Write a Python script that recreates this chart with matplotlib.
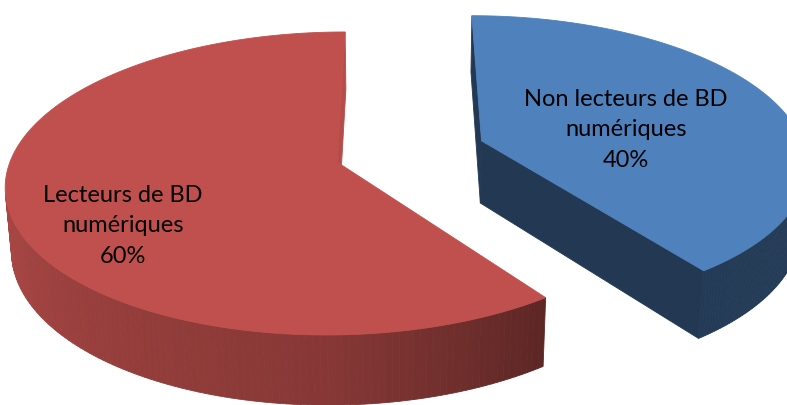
import numpy as np
import matplotlib
matplotlib.use("Agg")
import matplotlib.pyplot as plt
from matplotlib.patches import Polygon

# chart data
labels = ["Non lecteurs de BD\nnumériques", "Lecteurs de BD\nnumériques"]
values = [40, 60]
explode = [0.47, 0.0]
top_colors = ["#4F81BD", "#C0504D"]

# camera / perspective settings (tuned by eye)
elev = np.radians(27)
dist = 6.29
scale = 2057
cam_x = 0.2
thick = 0.22
ce, se = np.cos(elev), np.sin(elev)
X0 = 337 + scale * cam_x / dist
Y0 = 162
cam = np.array([cam_x, -dist * ce, dist * se])


def proj(x, y, z):
    rx, ry, rz = x - cam[0], y - cam[1], z - cam[2]
    depth = ry * ce - rz * se
    up = ry * se + rz * ce
    return X0 + scale * rx / depth, Y0 - scale * up / depth


def depth_of(x, y, z):
    return np.sqrt((x - cam[0]) ** 2 + (y - cam[1]) ** 2 + (z - cam[2]) ** 2)


def wall_color(base, ang, kind):
    # darker on the right, lighter to the left
    base = np.array(matplotlib.colors.to_rgb(base))
    if kind == "red":
        a_pts = [144, 180, 225, 270, 320, 360]
        f_pts = [0.48, 0.70, 0.80, 0.92, 0.95, 0.95]
    else:
        a_pts = [0, 60, 100, 144]
        f_pts = [0.42, 0.45, 0.47, 0.46]
    f = np.interp(ang, a_pts, f_pts)
    return tuple(np.clip(base * f, 0, 1))


fig = plt.figure(figsize=(7.87, 4.05), dpi=100)
ax = fig.add_axes([0, 0, 1, 1])
ax.set_xlim(0, 787)
ax.set_ylim(405, 0)
ax.axis("off")

total = sum(values)
start = 0.0
slices = []
for v, ex, col in zip(values, explode, top_colors):
    span = 360.0 * v / total
    slices.append((start, start + span, ex, col))
    start += span

for i, (a0, a1, ex, col) in enumerate(slices):
    mid = np.radians((a0 + a1) / 2)
    cx, cy = ex * np.sin(mid), ex * np.cos(mid)
    kind = "blue" if i == 0 else "red"
    angs = np.linspace(a0, a1, 200)
    polys = []
    # curved outer wall
    for j in range(len(angs) - 1):
        t1, t2 = np.radians(angs[j]), np.radians(angs[j + 1])
        tm = (t1 + t2) / 2
        px, py = cx + np.sin(tm), cy + np.cos(tm)
        n = np.array([np.sin(tm), np.cos(tm), 0])
        view = cam - np.array([px, py, -thick / 2])
        if n @ view <= 0:
            continue
        pts = [proj(cx + np.sin(t1), cy + np.cos(t1), 0),
               proj(cx + np.sin(t2), cy + np.cos(t2), 0),
               proj(cx + np.sin(t2), cy + np.cos(t2), -thick),
               proj(cx + np.sin(t1), cy + np.cos(t1), -thick)]
        c = wall_color(col, np.degrees(tm), kind)
        polys.append((depth_of(px, py, -thick / 2), pts, c))
    # radial side faces
    for a, nang in [(a0, a0 - 90), (a1, a1 + 90)]:
        t = np.radians(a)
        n = np.array([np.sin(np.radians(nang)), np.cos(np.radians(nang)), 0])
        ex_, ey_ = cx + np.sin(t), cy + np.cos(t)
        view = cam - np.array([(cx + ex_) / 2, (cy + ey_) / 2, -thick / 2])
        if n @ view <= 0:
            continue
        pts = [proj(cx, cy, 0), proj(ex_, ey_, 0),
               proj(ex_, ey_, -thick), proj(cx, cy, -thick)]
        c = wall_color(col, a, kind)
        if kind == "blue":
            c = tuple(np.clip(np.array(matplotlib.colors.to_rgb(col)) * 0.44, 0, 1))
        polys.append((depth_of((cx + ex_) / 2, (cy + ey_) / 2, -thick / 2), pts, c))
    polys.sort(key=lambda p: -p[0])
    for _, pts, c in polys:
        ax.add_patch(Polygon(pts, closed=True, facecolor=c, edgecolor=c, lw=0.6))
    # top face
    top = [proj(cx, cy, 0)]
    for a in angs:
        t = np.radians(a)
        top.append(proj(cx + np.sin(t), cy + np.cos(t), 0))
    ax.add_patch(Polygon(top, closed=True, facecolor=col, edgecolor=col, lw=0.6))

# labels
pct = [f"{v}%" for v in values]
ax.text(626, 130, labels[0] + "\n" + pct[0], ha="center", va="center",
        fontsize=17, family="Lato", linespacing=1.58, color="#000000")
ax.text(123, 226, labels[1] + "\n" + pct[1], ha="center", va="center",
        fontsize=17, family="Lato", linespacing=1.58, color="#000000")

fig.savefig("out.png", dpi=100, facecolor="white")
